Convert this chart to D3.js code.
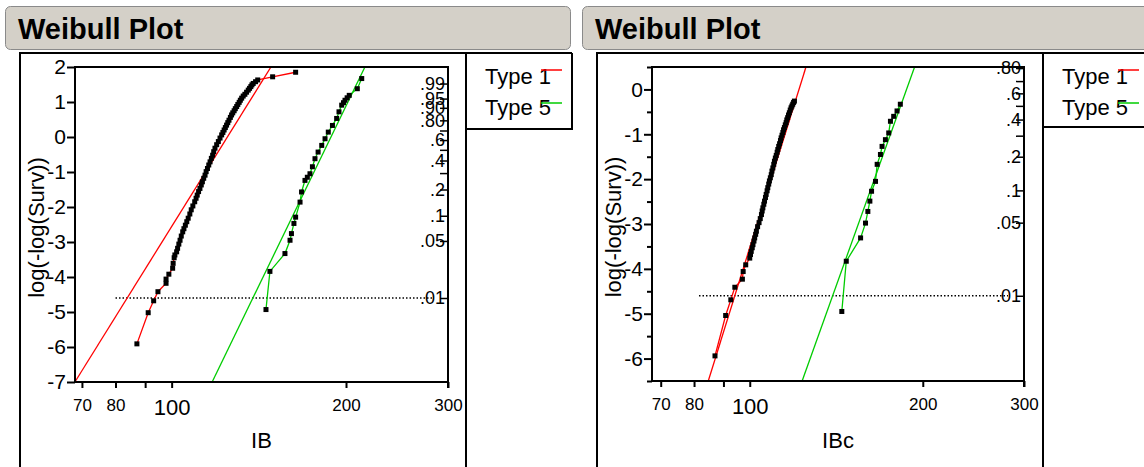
<!DOCTYPE html>
<html>
<head>
<meta charset="utf-8">
<script src="https://cdn.jsdelivr.net/npm/d3@7"></script>
<style>
  body { margin: 0; background: #fff; }
  svg { display: block; font-family: "Liberation Sans", Arial, sans-serif; }
</style>
</head>
<body>
<svg id="chart" width="1144" height="467"></svg>
<script>
// tick values / labels
const xTickValues = [70, 80, 90, 100, 200, 300];
const xTickLabels = ["70", "80", "", "100", "200", "300"];
const probTicks = [0.99, 0.95, 0.90, 0.80, 0.7, 0.6, 0.5, 0.4, 0.3, 0.2, 0.1, 0.05, 0.01];
const probLabels = [".99", ".95", ".90", ".80", "", ".6", "", ".4", "", ".2", ".1", ".05", ".01"];
const refProb = 0.01;

const seriesNames = ["Type 1", "Type 5"];
const seriesColors = ["#ff0000", "#00cc00"];

// [IB, log(-log(Surv))]
const ib_type1 = [[87.1,-5.91],[91.1,-5.02],[93.1,-4.68],[94.7,-4.42],[97.8,-4.18],[97.8,-4.06],
  [98.9,-3.92],[100.4,-3.75],[100.6,-3.61],[101.0,-3.45],[101.3,-3.37],[102.0,-3.28],[102.4,-3.18],
  [102.9,-3.06],[103.4,-2.95],[103.9,-2.83],[104.5,-2.71],[105.0,-2.62],[105.6,-2.52],[106.2,-2.42],
  [106.8,-2.32],[107.5,-2.20],[108.1,-2.08],[108.8,-1.97],[109.6,-1.85],[110.2,-1.75],[110.7,-1.66],
  [111.3,-1.56],[111.9,-1.47],[112.5,-1.37],[113.0,-1.28],[113.6,-1.18],[114.2,-1.09],[114.7,-0.99],
  [115.3,-0.90],[115.9,-0.80],[116.5,-0.71],[117.1,-0.61],[117.7,-0.52],[118.2,-0.42],[118.8,-0.32],
  [119.6,-0.22],[120.4,-0.13],[121.2,-0.03],[122.0,0.06],[122.6,0.13],[123.2,0.20],[123.8,0.27],
  [124.4,0.34],[125.0,0.41],[125.6,0.48],[126.3,0.56],[126.9,0.63],[127.5,0.69],[128.2,0.75],
  [128.8,0.81],[129.5,0.87],[130.1,0.93],[130.8,0.99],[131.4,1.05],[132.1,1.11],[132.9,1.17],
  [133.8,1.22],[134.7,1.28],[135.6,1.34],[136.3,1.39],[137.0,1.44],[137.6,1.49],[138.3,1.53],
  [139.6,1.58],[140.8,1.63],[149.4,1.72],[163.7,1.85]];
const ib_type5 = [[145.5,-4.93],[147.8,-3.84],[156.9,-3.33],[160.1,-2.95],[161.0,-2.76],[162.6,-2.47],
  [163.7,-2.29],[166.6,-1.86],[167.6,-1.57],[169.9,-1.24],[171.5,-1.15],[173.3,-1.05],[175.0,-0.85],
  [176.8,-0.62],[179.0,-0.43],[181.6,-0.24],[184.0,-0.05],[186.4,0.14],[189.5,0.33],[192.7,0.53],
  [194.5,0.72],[196.6,0.91],[198.0,0.98],[199.2,1.05],[200.9,1.12],[202.6,1.19],[209.2,1.38],[212.9,1.67]];

// [IBc, log(-log(Surv))]
const ibc_type1 = [[87.0,-5.94],[90.8,-5.04],[92.7,-4.69],[94.2,-4.41],[97.1,-4.23],[97.4,-4.06],
  [98.4,-3.91],[100.0,-3.76],[100.3,-3.68],[100.6,-3.61],[101.0,-3.53],[101.3,-3.46],[101.7,-3.38],
  [102.0,-3.31],[102.4,-3.23],[102.7,-3.16],[103.2,-3.06],[103.8,-2.97],[104.3,-2.88],[104.8,-2.79],
  [105.1,-2.71],[105.4,-2.64],[105.8,-2.56],[106.1,-2.49],[106.5,-2.41],[106.8,-2.34],[107.2,-2.26],
  [107.5,-2.19],[107.9,-2.11],[108.2,-2.04],[108.6,-1.97],[109.0,-1.90],[109.3,-1.82],[109.7,-1.75],
  [110.1,-1.67],[110.4,-1.60],[110.8,-1.53],[111.2,-1.47],[111.6,-1.40],[111.9,-1.34],[112.3,-1.27],
  [112.7,-1.21],[113.1,-1.14],[113.4,-1.08],[113.8,-1.02],[114.2,-0.96],[114.5,-0.90],[114.9,-0.85],
  [115.3,-0.79],[115.7,-0.74],[116.0,-0.68],[116.4,-0.63],[116.8,-0.57],[117.2,-0.52],[117.6,-0.46],
  [118.0,-0.41],[118.4,-0.37],[118.8,-0.33],[119.2,-0.29],[119.6,-0.26]];
const ibc_type5 = [[144.6,-4.95],[147.2,-3.83],[155.9,-3.31],[159.0,-2.98],[160.5,-2.72],[161.8,-2.49],
  [162.9,-2.27],[165.5,-2.05],[166.6,-1.67],[168.8,-1.45],[169.9,-1.27],[172.2,-1.12],[174.5,-0.97],
  [175.7,-0.71],[178.0,-0.60],[180.4,-0.48],[182.8,-0.33]];

// fitted Weibull lines: shape (beta), scale (alpha)
const ib_fitShape = [11.55, 14.82];
const ib_fitScale = [124.8, 188.4];
const ibc_fitShape = [17.89, 15.54];
const ibc_fitScale = [121.8, 187.4];

const FONT = "Liberation Sans, Arial, sans-serif";
const svg = d3.select("#chart");
svg.append("rect").attr("width", 1144).attr("height", 467).attr("fill", "#fff");

function drawPanel(p) {
  var g = svg.append("g");

  // header bar
  g.append("rect")
    .attr("x", p.hx + 0.5).attr("y", 6.5)
    .attr("width", p.hw).attr("height", 43)
    .attr("rx", 5)
    .attr("fill", "#d4d0c8").attr("stroke", "#8a8a8a");
  g.append("text")
    .attr("x", p.hx + 13).attr("y", 39)
    .attr("font-size", 29).attr("font-weight", "bold")
    .text("Weibull Plot");

  // outline boxes
  var ol = g.append("g").attr("stroke", "#000").attr("stroke-width", 2).attr("fill", "none");
  ol.append("path").attr("d", "M" + p.ox + ",467V53H" + p.lr);
  ol.append("path").attr("d", "M" + p.lx + ",53V467");
  ol.append("path").attr("d", "M" + p.lx + "," + p.lb + "H" + p.lr + (p.lr < 1144 ? "V53" : ""));

  // legend
  seriesNames.forEach(function (name, i) {
    g.append("text")
      .attr("x", p.lx + 19).attr("y", 84 + i * 31)
      .attr("font-size", 22)
      .text(name);
    g.append("line")
      .attr("x1", p.lx + 75).attr("x2", p.lx + 96)
      .attr("y1", 70 + i * 33).attr("y2", 70 + i * 33)
      .attr("stroke", seriesColors[i]).attr("stroke-width", 1.5);
  });

  var x = d3.scaleLog().domain(p.xDomain).range([p.left, p.right]);
  var y = d3.scaleLinear().domain(p.yDomain).range([p.bottom, p.top]);

  // x axis
  var xa = g.append("g")
    .attr("transform", "translate(0," + p.bottom + ")")
    .call(d3.axisBottom(x).tickValues(xTickValues).tickSize(6).tickPadding(11)
      .tickFormat(function (d, i) { return xTickLabels[i]; }));
  xa.select(".domain").remove();
  xa.selectAll("line").attr("stroke-width", 2);
  xa.selectAll("text").attr("fill", "#000")
    .attr("font-size", function (d) { return d === 100 ? 22 : 17; })
    .attr("font-family", FONT);

  // y axis
  var yTicks = d3.range(Math.ceil(p.yDomain[0]), Math.floor(p.yDomain[1]) + 1);
  var ya = g.append("g")
    .attr("transform", "translate(" + p.left + ",0)")
    .call(d3.axisLeft(y).tickValues(yTicks).tickSize(8).tickPadding(1)
      .tickFormat(function (d) { return String(d); }));
  ya.select(".domain").remove();
  ya.selectAll("line").attr("stroke-width", 2);
  ya.selectAll("text").attr("fill", "#000").attr("font-size", 21)
    .attr("font-family", FONT);

  if (p.minorY) {
    var minor = d3.range(p.yDomain[0], p.yDomain[1] + 0.01, 0.5).filter(function (d) { return d % 1 !== 0; });
    var ym = g.append("g")
      .attr("transform", "translate(" + p.left + ",0)")
      .call(d3.axisLeft(y).tickValues(minor).tickSize(5).tickFormat(""));
    ym.select(".domain").remove();
    ym.selectAll("line").attr("stroke-width", 2);
  }

  // probability axis on the right
  var pt = [], pl = [];
  probTicks.forEach(function (pr, i) {
    var v = Math.log(-Math.log(1 - pr));
    if (v >= p.yDomain[0] - 0.01 && v <= p.yDomain[1] + 0.01) {
      pt.push(v);
      pl.push(probLabels[i]);
    }
  });
  var pa = g.append("g")
    .attr("transform", "translate(" + p.right + ",0)")
    .call(d3.axisLeft(y).tickValues(pt).tickSize(8).tickPadding(-5)
      .tickFormat(function (d, i) { return pl[i]; }));
  pa.select(".domain").remove();
  pa.selectAll("line").attr("stroke-width", 1.5);
  pa.selectAll("text").attr("fill", "#000").attr("font-size", 18)
    .attr("font-family", FONT);

  // reference dotted line at .01
  var refY = Math.log(-Math.log(1 - refProb));
  g.append("line")
    .attr("x1", x(p.refStart)).attr("x2", p.right - 16)
    .attr("y1", y(refY)).attr("y2", y(refY))
    .attr("stroke", "#000").attr("stroke-width", 1.5)
    .attr("stroke-dasharray", "1.5,2");

  // clip for fit lines
  var clipId = "clip" + p.id;
  svg.append("clipPath").attr("id", clipId).append("rect")
    .attr("x", p.left - 2).attr("y", p.top)
    .attr("width", p.right - p.left + 2).attr("height", p.bottom - p.top + 2);

  var line = d3.line().x(function (d) { return x(d[0]); }).y(function (d) { return y(d[1]); });

  // fitted lines
  p.series.forEach(function (s, i) {
    var b = p.fitShape[i], a = p.fitScale[i];
    var ends = [p.yDomain[0], p.yDomain[1]].map(function (v) { return [a * Math.exp(v / b), v]; });
    g.append("path")
      .attr("d", line(ends))
      .attr("clip-path", "url(#" + clipId + ")")
      .attr("fill", "none").attr("stroke", seriesColors[i]).attr("stroke-width", 1.3);
  });

  // connected data + markers
  p.series.forEach(function (s, i) {
    g.append("path")
      .attr("d", line(s))
      .attr("fill", "none").attr("stroke", seriesColors[i]).attr("stroke-width", 1.3);
  });
  p.series.forEach(function (s) {
    g.selectAll(null).data(s).enter().append("rect")
      .attr("x", function (d) { return x(d[0]) - 2.5; })
      .attr("y", function (d) { return y(d[1]) - 2.5; })
      .attr("width", 5).attr("height", 5)
      .attr("fill", "#000");
  });

  // plot frame
  g.append("rect")
    .attr("x", p.left).attr("y", p.top)
    .attr("width", p.right - p.left).attr("height", p.bottom - p.top)
    .attr("fill", "none").attr("stroke", "#000").attr("stroke-width", 2);
  g.append("line")
    .attr("x1", p.right).attr("x2", p.right)
    .attr("y1", p.bottom).attr("y2", p.bottom + 6)
    .attr("stroke", "#000").attr("stroke-width", 2);

  // axis titles
  g.append("text")
    .attr("transform", "translate(" + (p.ox + 24) + "," + ((p.top + p.bottom) / 2 + 3) + ") rotate(-90)")
    .attr("text-anchor", "middle").attr("font-size", 22)
    .text("log(-log(Surv))");
  g.append("text")
    .attr("x", (p.left + p.right) / 2).attr("y", 448)
    .attr("text-anchor", "middle").attr("font-size", 22)
    .text(p.xTitle);
}

drawPanel({
  id: 1, hx: 5, hw: 565, ox: 20, lx: 466, lr: 572, lb: 129,
  left: 75, right: 448, top: 67, bottom: 382,
  xDomain: [68.1, 300], yDomain: [-7, 2], minorY: false,
  refStart: 80, xTitle: "IB",
  series: [ib_type1, ib_type5], fitShape: ib_fitShape, fitScale: ib_fitScale
});

drawPanel({
  id: 2, hx: 582, hw: 570, ox: 597, lx: 1043, lr: 1150, lb: 127,
  left: 652, right: 1024, top: 67, bottom: 381,
  xDomain: [67.6, 300], yDomain: [-6.5, 0.5], minorY: true,
  refStart: 81.6, xTitle: "IBc",
  series: [ibc_type1, ibc_type5], fitShape: ibc_fitShape, fitScale: ibc_fitScale
});
</script>
</body>
</html>
